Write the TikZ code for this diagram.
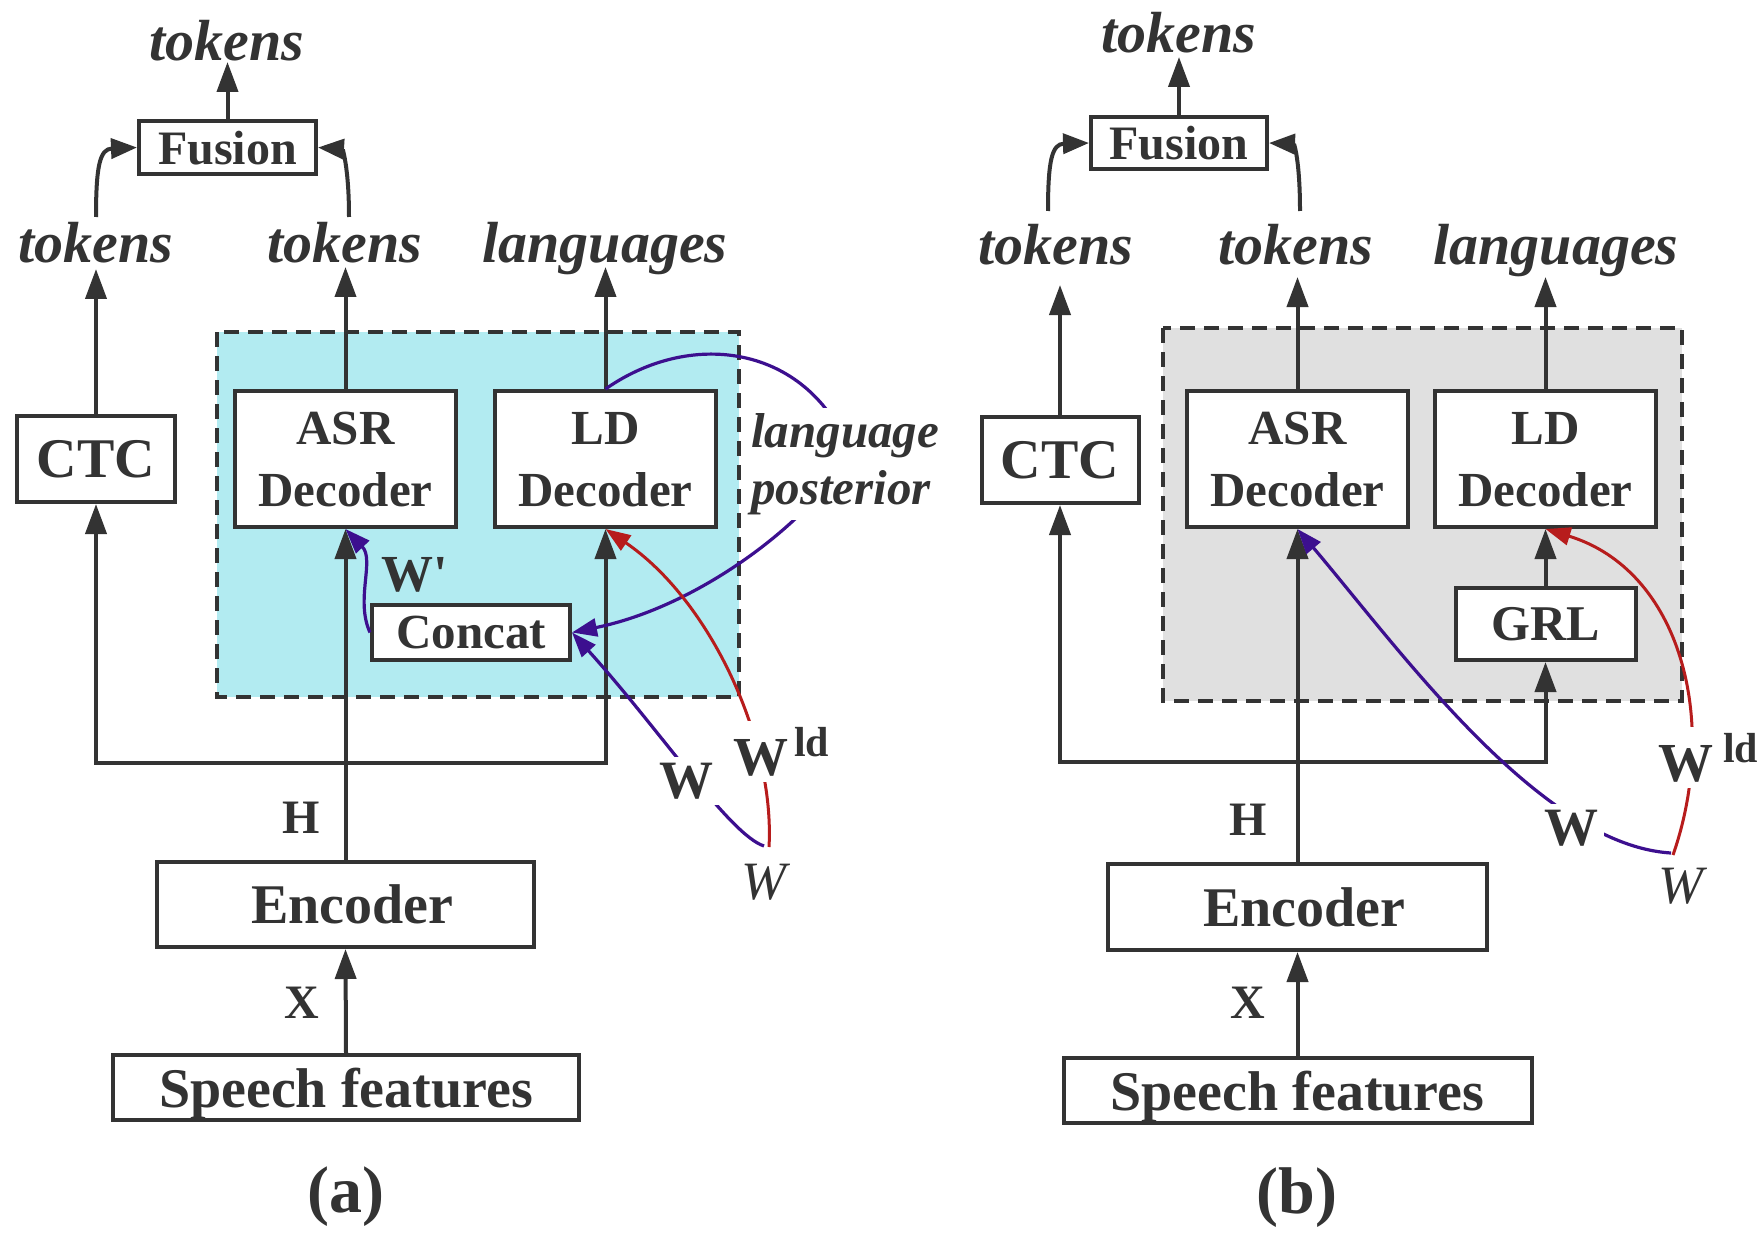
\documentclass[tikz,border=0pt]{standalone}
\usepackage{fontspec}
\setmainfont{Liberation Serif}
\usetikzlibrary{arrows.meta}
\definecolor{ink}{HTML}{333333}
\definecolor{cyanfill}{HTML}{B2EBF1}
\definecolor{grayfill}{HTML}{E0E0E0}
\definecolor{purp}{HTML}{3C0F8F}
\definecolor{redc}{HTML}{B71C1C}
\newcommand{\fsz}[2]{\fontsize{#1}{#2}\selectfont}
\newcommand{\straightquote}{\XeTeXglyph\XeTeXcharglyph"0027\relax}
\begin{document}
\begin{tikzpicture}[x=1pt,y=-1pt,
  box/.style={draw=ink,line width=4pt,fill=white,inner sep=0pt,text=ink,align=center,text depth=0pt},
  lab/.style={text=ink,inner sep=0pt},
  arr/.style={draw=ink,line width=4pt,-{Triangle[length=30pt,width=21pt]}},
  arrtwo/.style={draw=ink,line width=4pt,{Triangle[length=30pt,width=21pt]}-{Triangle[length=30pt,width=21pt]}},
  carr/.style={draw=ink,line width=4pt,-{Triangle[length=26pt,width=20pt]}},
  parr/.style={draw=purp,line width=3.2pt,-{Triangle[length=25pt,width=18pt]}},
  rarr/.style={draw=redc,line width=3pt,-{Triangle[length=25pt,width=18pt]}},
  dashbox/.style={draw=ink,line width=3.5pt,dash pattern=on 15pt off 9pt},
  itl/.style={lab,font=\bfseries\itshape\fsz{58}{58}},
  bl/.style={lab,font=\bfseries\fsz{48}{48}},
  wlab/.style={lab,fill=white,inner sep=6pt,font=\bfseries\fsz{54}{54}}
]
\useasboundingbox[fill=white] (0,0) rectangle (1761,1233);

% ---------------- panel (a) ----------------
\draw[dashbox,fill=cyanfill] (217,332) rectangle (739,697);

\node[box,minimum width=177pt,minimum height=53pt,font=\bfseries\fsz{48}{48}] (fusA) at (227.5,147.5) {Fusion};
\node[box,minimum width=158pt,minimum height=86pt,font=\bfseries\fsz{56}{56}] (ctcA) at (96,459) {CTC};
\node[box,minimum width=221pt,minimum height=136pt,font=\bfseries\fsz{49}{62}] (asrA) at (345.5,459) {ASR\\Decoder};
\node[box,minimum width=221pt,minimum height=136pt,font=\bfseries\fsz{49}{62}] (ldA) at (605.5,459) {LD\\Decoder};
\node[box,minimum width=198pt,minimum height=55pt,font=\bfseries\fsz{49}{49}] (conA) at (471,632.5) {Concat};
\node[box,minimum width=377pt,minimum height=85pt,font=\bfseries\fsz{56}{56}] (encA) at (345.5,904.5) {\hspace*{14pt}Encoder};
\node[box,minimum width=466pt,minimum height=65pt,font=\bfseries\fsz{56}{56}] (spA) at (346,1087.5) {Speech features};

\node[itl,anchor=base] (tokA0) at (227,61) {tokens};
\node[itl,anchor=base] (tokA1) at (96,263) {tokens};
\node[itl,anchor=base] (tokA2) at (345,263) {tokens};
\node[itl,anchor=base] (langA) at (605,263) {languages};
\node[bl] (hA) at (301,818) {H};
\node[bl] (xA) at (302,1003) {X};
\node[lab,font=\bfseries\fsz{52}{52}] (wpA) at (415,575) {W\straightquote};
\node[lab,font=\itshape\fsz{54}{54}] (witA) at (764,882) {W};
\node[lab,font=\bfseries\fsz{66}{66}] (capA) at (346,1197) {(a)};

\coordinate (tA0) at (227.5,62);
\coordinate (tA1) at (96,269);
\coordinate (tA2) at (345.5,267);
\coordinate (tA3) at (605.5,267);
\coordinate (hlA) at (345.5,763);
\coordinate (cA1) at (96,217);
\coordinate (cA2) at (349,217);
\coordinate (wsA) at (764,846);
\coordinate (wrA) at (769,847);

\draw[arr] (fusA.north) -- (tA0);
\draw[arr] (ctcA.north) -- (tA1);
\draw[arr] (asrA.north) -- (tA2);
\draw[arr] (ldA.north) -- (tA3);
\draw[carr] (cA1) .. controls (96,165) and (100,149) .. (fusA.west);
\draw[carr] (cA2) .. controls (349,165) and (342,149) .. (fusA.east);
\draw[arr] (encA.north) -- (asrA.south);
\draw[arr] (spA.north) -- (encA.south);
\draw[arrtwo] (ctcA.south) -- (ctcA.south |- hlA) -- (ldA.south |- hlA) -- (ldA.south);

\draw[parr] (ldA.north) .. controls (690,330) and (800,345) .. (845,440)
   .. controls (860,472) and (730,600) .. (conA.east);
\draw[parr] (conA.west) .. controls (355,600) and (375,560) .. (asrA.south);
\draw[parr] (wsA) .. controls (730,835) and (660,730) .. (conA.east);
\draw[rarr] (wrA) .. controls (775,740) and (710,600) .. (ldA.south);

\node[lab,fill=white,inner sep=5pt,anchor=north west,align=left,font=\bfseries\itshape\fsz{49}{57}] (lpA) at (746,408) {language\\posterior};
\node[wlab] (wA) at (686,781) {W};
\node[wlab,anchor=base west,font=\bfseries\fsz{55}{55}] (wldA) at (727,775) {W\kern6pt\raisebox{19pt}{\fsz{42}{42}ld}};

% ---------------- panel (b) ----------------
\draw[dashbox,fill=grayfill] (1163,328) rectangle (1682,701);

\node[box,minimum width=176pt,minimum height=52pt,font=\bfseries\fsz{48}{48}] (fusB) at (1179,143) {Fusion};
\node[box,minimum width=157pt,minimum height=86pt,font=\bfseries\fsz{56}{56}] (ctcB) at (1060,460) {CTC};
\node[box,minimum width=221pt,minimum height=136pt,font=\bfseries\fsz{49}{62}] (asrB) at (1297.5,459) {ASR\\Decoder};
\node[box,minimum width=221pt,minimum height=136pt,font=\bfseries\fsz{49}{62}] (ldB) at (1545.5,459) {LD\\Decoder};
\node[box,minimum width=180pt,minimum height=72pt,font=\bfseries\fsz{50}{50}] (grlB) at (1545.5,624) {GRL};
\node[box,minimum width=379pt,minimum height=86pt,font=\bfseries\fsz{56}{56}] (encB) at (1297.5,907) {\hspace*{14pt}Encoder};
\node[box,minimum width=468pt,minimum height=65pt,font=\bfseries\fsz{56}{56}] (spB) at (1297.5,1090.5) {Speech features};

\node[itl,anchor=base] (tokB0) at (1179,53) {tokens};
\node[itl,anchor=base] (tokB1) at (1056,265) {tokens};
\node[itl,anchor=base] (tokB2) at (1296,265) {tokens};
\node[itl,anchor=base] (langB) at (1556,265) {languages};
\node[bl] (hB) at (1248,820) {H};
\node[bl] (xB) at (1248,1003) {X};
\node[lab,font=\itshape\fsz{54}{54}] (witB) at (1681,886) {W};
\node[lab,font=\bfseries\fsz{66}{66}] (capB) at (1297,1198) {(b)};

\coordinate (tB0) at (1179,57);
\coordinate (tB1) at (1060,285);
\coordinate (tB2) at (1297.5,277);
\coordinate (tB3) at (1545.5,277);
\coordinate (hlB) at (1297.5,762);
\coordinate (cB1) at (1048,211);
\coordinate (cB2) at (1300,211);
\coordinate (wsB) at (1671,853);
\coordinate (wrB) at (1673,855);

\draw[arr] (fusB.north) -- (tB0);
\draw[arr] (ctcB.north) -- (tB1);
\draw[arr] (asrB.north) -- (tB2);
\draw[arr] (ldB.north) -- (tB3);
\draw[carr] (cB1) .. controls (1048,160) and (1052,144) .. (fusB.west);
\draw[carr] (cB2) .. controls (1300,160) and (1294,144) .. (fusB.east);
\draw[arr] (encB.north) -- (asrB.south);
\draw[arr] (spB.north) -- (encB.south);
\draw[arr] (grlB.north) -- (ldB.south);
\draw[arrtwo] (ctcB.south) -- (ctcB.south |- hlB) -- (grlB.south |- hlB) -- (grlB.south);

\draw[parr] (wsB) .. controls (1540,845) and (1400,650) .. (asrB.south);
\draw[rarr] (wrB) .. controls (1720,720) and (1680,570) .. (ldB.south);

\node[wlab] (wB) at (1571,828) {W};
\node[wlab,anchor=base west,font=\bfseries\fsz{55}{55}] (wldB) at (1652,781) {W\kern10pt\raisebox{19pt}{\fsz{42}{42}ld}};
\end{tikzpicture}
\end{document}
